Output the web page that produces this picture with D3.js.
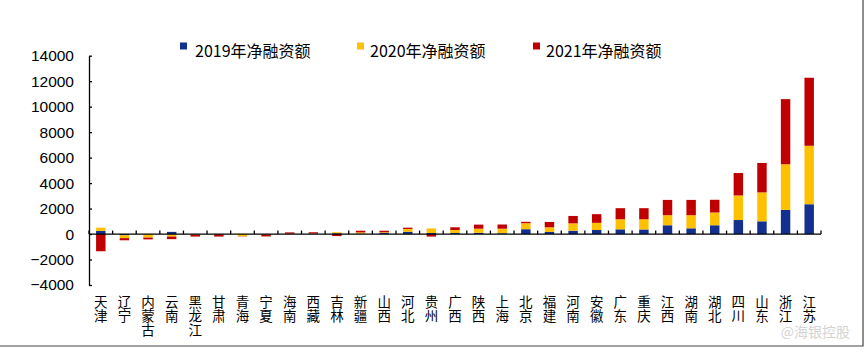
<!DOCTYPE html>
<html>
<head>
<meta charset="utf-8">
<script src="https://cdn.jsdelivr.net/npm/d3@7"></script>
<style>
  body { margin: 0; background: #fff; }
  svg { display: block; }
</style>
</head>
<body>
<svg id="chart" width="866" height="352"></svg>
<script>
// 各省净融资额（亿元）
const provinces = ['天津', '辽宁', '内蒙古', '云南', '黑龙江', '甘肃', '青海', '宁夏', '海南', '西藏',
  '吉林', '新疆', '山西', '河北', '贵州', '广西', '陕西', '上海', '北京', '福建', '河南', '安徽',
  '广东', '重庆', '江西', '湖南', '湖北', '四川', '山东', '浙江', '江苏'];
const v2019 = [250, -100, -20, 170, -20, -20, -20, -20, 10, 10, 60, 30, 90, 180, 80, 80, 100, 60,
  380, 160, 260, 320, 370, 360, 690, 450, 690, 1100, 1000, 1900, 2340];
const v2020 = [250, -220, -260, -200, -30, -20, -150, -20, 20, 30, 80, 100, 50, 220, 360, 240, 320,
  360, 470, 370, 580, 560, 790, 800, 790, 1030, 1000, 1930, 2270, 3580, 4590];
const v2021 = [-1350, -170, -140, -200, -150, -160, -20, -150, 100, 100, -160, 130, 120, 100, -200,
  210, 320, 330, 110, 420, 580, 680, 870, 870, 1200, 1200, 1000, 1760, 2310, 5110, 5340];
const seriesNames = ['2019年净融资额', '2020年净融资额', '2021年净融资额'];
const yTicks = [-4000, -2000, 0, 2000, 4000, 6000, 8000, 10000, 12000, 14000];

const colors = ['#14308f', '#ffc000', '#c00000'];

const svg = d3.select('#chart');
const plotLeft = 89, plotRight = 821, plotTop = 55.7, plotBottom = 285;

const rows = provinces.map((p, i) => ({ name: p, s0: v2019[i], s1: v2020[i], s2: v2021[i] }));
const stacked = d3.stack()
  .keys(['s0', 's1', 's2'])
  .offset(d3.stackOffsetDiverging)(rows);

const x = d3.scaleBand()
  .domain(provinces)
  .range([plotLeft, plotRight])
  .paddingInner(0.6)
  .paddingOuter(0.3);

const y = d3.scaleLinear()
  .domain([-4000, 14000])
  .range([plotBottom, plotTop]);

// bars
svg.append('g')
  .selectAll('g')
  .data(stacked)
  .join('g')
  .attr('fill', (d, i) => colors[i])
  .selectAll('rect')
  .data((d) => d)
  .join('rect')
  .attr('x', (d) => x(d.data.name))
  .attr('width', x.bandwidth())
  .attr('y', (d) => y(Math.max(d[0], d[1])))
  .attr('height', (d) => Math.abs(y(d[0]) - y(d[1])));

// y axis
const yAxis = svg.append('g')
  .attr('transform', `translate(${plotLeft},0)`)
  .call(d3.axisLeft(y).tickValues(yTicks).tickSizeInner(-3).tickSizeOuter(0).tickPadding(15).tickFormat(d3.format('d')));
yAxis.select('.domain').attr('stroke', '#000').attr('stroke-width', 1.3);
yAxis.selectAll('.tick line').attr('stroke', '#000').attr('stroke-width', 1.3);
yAxis.selectAll('text')
  .attr('fill', '#000')
  .style('font-family', '"Liberation Sans", Arial, sans-serif')
  .style('font-size', '15.5px');

// x axis along zero, tick marks between categories
const y0 = y(0);
svg.append('line')
  .attr('x1', plotLeft).attr('x2', plotRight)
  .attr('y1', y0).attr('y2', y0)
  .attr('stroke', '#000').attr('stroke-width', 1.3);
const step = x.step();
svg.append('g')
  .selectAll('line')
  .data(d3.range(provinces.length + 1))
  .join('line')
  .attr('x1', (k) => plotLeft + k * step)
  .attr('x2', (k) => plotLeft + k * step)
  .attr('y1', y0)
  .attr('y2', y0 - 3.5)
  .attr('stroke', '#000')
  .attr('stroke-width', 1.3);

// vertical category labels, one text per province written top to bottom
svg.append('g')
  .selectAll('text')
  .data(provinces)
  .join('text')
  .attr('x', (p) => x(p) + x.bandwidth() / 2)
  .attr('y', 295)
  .style('writing-mode', 'vertical-rl')
  .style('text-orientation', 'upright')
  .style('letter-spacing', '0.5px')
  .style('font-family', '"Noto Sans CJK SC", sans-serif')
  .style('font-size', '13.5px')
  .attr('fill', '#000')
  .text((p) => p);

// legend
const legendX = [180, 357, 533];
const textX = [195, 370, 546];
const lg = svg.append('g');
seriesNames.forEach((name, i) => {
  lg.append('rect')
    .attr('x', legendX[i]).attr('y', 42.5)
    .attr('width', 7).attr('height', 7)
    .attr('fill', colors[i]);
  lg.append('text')
    .attr('x', textX[i]).attr('y', 57)
    .style('font-family', '"Noto Sans CJK SC", sans-serif')
    .style('font-size', '16px')
    .attr('fill', '#000')
    .text(name);
});

// watermark
svg.append('text')
  .attr('x', 850).attr('y', 337)
  .attr('text-anchor', 'end')
  .style('font-family', '"Noto Sans CJK SC", sans-serif')
  .style('font-size', '14px')
  .attr('fill', '#d4d4d4')
  .text('@海银控股');

// frame on right and bottom
svg.append('path')
  .attr('d', 'M863,0V346H0')
  .attr('fill', 'none')
  .attr('stroke', '#444')
  .attr('stroke-width', 1.2);
</script>
</body>
</html>
